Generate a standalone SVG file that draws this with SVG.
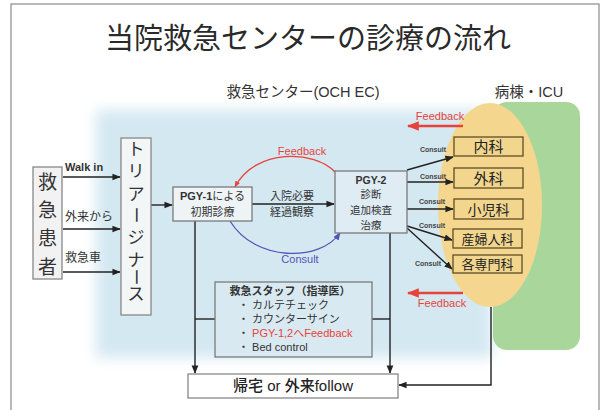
<svg xmlns="http://www.w3.org/2000/svg" width="601" height="410" viewBox="0 0 601 410">
<style>
text{font-family:"Liberation Sans","Noto Sans CJK JP",sans-serif;fill:#333}
.jp{font-family:"Noto Sans CJK JP","Liberation Sans",sans-serif}
.box{fill:#eef3f6;stroke:#7a7a7a;stroke-width:1.3}
.dept{fill:#f2d68e;stroke:#5e4e26;stroke-width:1.3}
.ln{fill:none;stroke:#222;stroke-width:1.4}
.fb{fill:none;stroke:#e8433a;stroke-width:2.4}
.c{text-anchor:middle}
.red{fill:#e8433a}
.cs{font-size:7px;font-weight:bold;fill:#444;text-anchor:middle}
</style>
<defs>
<filter id="blur" x="-20%" y="-20%" width="140%" height="140%"><feGaussianBlur stdDeviation="7"/></filter>
<marker id="ah" viewBox="0 0 10 10" refX="9" refY="5" markerWidth="6" markerHeight="6" orient="auto"><path d="M0,1 L10,5 L0,9 z" fill="#222"/></marker>
<marker id="ahr" viewBox="0 0 10 10" refX="9" refY="5" markerWidth="5" markerHeight="5" orient="auto"><path d="M0,1 L10,5 L0,9 z" fill="#e8433a"/></marker>
<marker id="ahb" viewBox="0 0 10 10" refX="9" refY="5" markerWidth="6" markerHeight="6" orient="auto"><path d="M0,1 L10,5 L0,9 z" fill="#5454b4"/></marker>
</defs>
<rect x="0" y="0" width="601" height="410" fill="#ffffff"/>
<rect x="11" y="4" width="588" height="420" fill="#ffffff" stroke="#8a8a8a" stroke-width="1.2"/>
<g id="bg">
<rect x="96" y="110" width="396" height="248" fill="#d4e8f2" filter="url(#blur)"/>
<rect x="493" y="102" width="87" height="248" rx="14" fill="#a9d69b"/>
<ellipse cx="490" cy="205" rx="52" ry="102" fill="#f4d68e"/>
</g>
<g id="title">
<text x="308" y="49" class="jp c" font-size="29" style="fill:#2a2a2a">当院救急センターの診療の流れ</text>
<text x="303" y="97" class="c" font-size="14.5">救急センター(OCH EC)</text>
<text x="529" y="97" class="c" font-size="14.5">病棟・ICU</text>
</g>
<g id="connectors">
<line x1="63" y1="177" x2="120" y2="177" class="ln" marker-end="url(#ah)"/>
<line x1="63" y1="229" x2="120" y2="229" class="ln" marker-end="url(#ah)"/>
<line x1="63" y1="272" x2="120" y2="272" class="ln" marker-end="url(#ah)"/>
<line x1="151" y1="205" x2="172" y2="205" class="ln" marker-end="url(#ah)"/>
<line x1="252" y1="204" x2="334" y2="204" class="ln" marker-end="url(#ah)"/>
<path d="M335,172 C315,150 255,148 235,187" fill="none" stroke="#e8433a" stroke-width="1.3" marker-end="url(#ahr)"/>
<path d="M230,221 C255,262 320,262 340,233" fill="none" stroke="#5454b4" stroke-width="1.3" marker-end="url(#ahb)"/>
<line x1="407" y1="170" x2="453" y2="157" class="ln" marker-end="url(#ah)"/>
<line x1="407" y1="182" x2="453" y2="182" class="ln" marker-end="url(#ah)"/>
<line x1="407" y1="209" x2="453" y2="209" class="ln" marker-end="url(#ah)"/>
<line x1="407" y1="226" x2="452" y2="240" class="ln" marker-end="url(#ah)"/>
<line x1="407" y1="228" x2="452" y2="269" class="ln" marker-end="url(#ah)"/>
<line x1="195" y1="221" x2="195" y2="373" class="ln" marker-end="url(#ah)"/>
<line x1="390" y1="233" x2="390" y2="373" class="ln" marker-end="url(#ah)"/>
<line x1="195" y1="319" x2="215" y2="319" class="ln"/>
<line x1="372" y1="319" x2="390" y2="319" class="ln"/>
<path d="M491,307 L491,385 L399,385" class="ln" marker-end="url(#ah)"/>
<line x1="463" y1="126" x2="408" y2="126" class="fb" marker-end="url(#ahr)"/>
<line x1="463" y1="293" x2="408" y2="293" class="fb" marker-end="url(#ahr)"/>
<text x="65" y="171" font-size="11" font-weight="bold">Walk in</text>
<text x="65" y="221" font-size="12" class="jp">外来から</text>
<text x="65" y="262" font-size="12" class="jp">救急車</text>
<text x="292" y="200" font-size="11" class="jp c">入院必要</text>
<text x="292" y="216" font-size="11" class="jp c">経過観察</text>
<text x="302" y="155" font-size="11" class="c red">Feedback</text>
<text x="300" y="263" font-size="11" class="c" style="fill:#5454b4">Consult</text>
<text x="440" y="120" font-size="11" class="c red">Feedback</text>
<text x="442" y="307" font-size="11" class="c red">Feedback</text>
<text x="433" y="152" class="cs">Consult</text>
<text x="433" y="179" class="cs">Consult</text>
<text x="432" y="204" class="cs">Consult</text>
<text x="432" y="228" class="cs">Consult</text>
<text x="428" y="266" class="cs">Consult</text>
</g>
<g id="patient">
<rect x="33" y="167" width="29" height="112" fill="#f2f2f2" stroke="#888" stroke-width="1.3"/>
<text x="47.5" y="189" font-size="19" class="jp c">救</text>
<text x="47.5" y="217" font-size="19" class="jp c">急</text>
<text x="47.5" y="245" font-size="19" class="jp c">患</text>
<text x="47.5" y="274" font-size="19" class="jp c">者</text>
</g>
<g id="triage">
<rect x="121" y="138" width="30" height="177" fill="#f3f6f7" stroke="#888" stroke-width="1.3"/>
<g class="jp" font-size="17" text-anchor="middle">
<text x="136" y="154.5">ト</text>
<text x="136" y="176.5">リ</text>
<text x="136" y="199.5">ア</text>
<text x="0" y="0" transform="translate(136 215) rotate(90) translate(0 6)">ー</text>
<text x="136" y="243">ジ</text>
<text x="136" y="266">ナ</text>
<text x="0" y="0" transform="translate(136 277) rotate(90) translate(0 6)">ー</text>
<text x="136" y="300">ス</text>
</g>
</g>
<g id="pgy1">
<rect x="173" y="187" width="79" height="34" class="box"/>
<text x="212.5" y="200" font-size="11" class="c" font-weight="bold">PGY-1<tspan font-weight="normal">による</tspan></text>
<text x="212.5" y="216" font-size="11" class="jp c">初期診療</text>
</g>
<g id="pgy2">
<rect x="335" y="171" width="72" height="62" class="box" style="fill:#dfecf3"/>
<text x="371" y="184" font-size="10.5" font-weight="bold" class="c">PGY-2</text>
<text x="371" y="198" font-size="10.5" class="jp c">診断</text>
<text x="371" y="213.5" font-size="10.5" class="jp c">追加検査</text>
<text x="371" y="229" font-size="10.5" class="jp c">治療</text>
</g>
<g id="naika"><rect x="454" y="137" width="69" height="19" class="dept"/><text x="488.5" y="152" font-size="15" class="jp c" style="fill:#222">内科</text></g>
<g id="geka"><rect x="454" y="168" width="69" height="20" class="dept"/><text x="488.5" y="183.5" font-size="15" class="jp c" style="fill:#222">外科</text></g>
<g id="shoni"><rect x="454" y="199" width="69" height="20" class="dept"/><text x="488.5" y="214.5" font-size="14" class="jp c" style="fill:#222">小児科</text></g>
<g id="sanfujin"><rect x="453" y="229" width="69" height="19" class="dept"/><text x="487.5" y="243.5" font-size="13" class="jp c" style="fill:#222">産婦人科</text></g>
<g id="senmon"><rect x="453" y="255" width="69" height="18" class="dept"/><text x="487.5" y="269" font-size="13" class="jp c" style="fill:#222">各専門科</text></g>
<g id="staff">
<rect x="215" y="282" width="157" height="75" class="box" style="fill:#d9e9f2"/>
<text x="290" y="295" font-size="11" font-weight="bold" class="jp c">救急スタッフ（指導医）</text>
<g font-size="11" class="jp">
<text x="238" y="309">・ カルテチェック</text>
<text x="238" y="323">・ カウンターサイン</text>
<text x="238" y="337">・ <tspan class="red">PGY-1,2へFeedback</tspan></text>
<text x="238" y="351">・ Bed control</text>
</g>
</g>
<g id="discharge">
<rect x="188" y="374" width="210" height="24" fill="#ffffff" stroke="#888" stroke-width="1.3"/>
<text x="293" y="391" font-size="15" font-weight="500" class="c" style="fill:#222">帰宅 or 外来follow</text>
</g>
</svg>
